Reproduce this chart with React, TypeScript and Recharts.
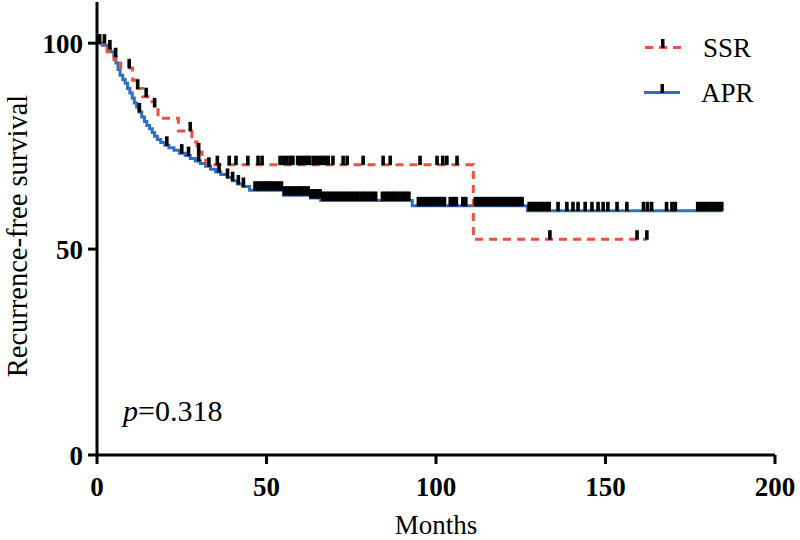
import React from "react";
import { ComposedChart, Line, Scatter, XAxis, YAxis } from "recharts";

// Kaplan-Meier step points (months, survival %)
const SSR_TIMES = [0, 3, 5, 7, 10.5, 12, 13.5, 15.5, 17, 18, 24, 28, 29.5, 31, 32.5, 111, 162.2];
const SSR_SURV = [100, 97.9, 96, 94, 91, 89, 87, 85.8, 84.5, 81.8, 78.7, 76, 73.6, 71.6, 70.5, 52.4, 52.4];

const APR_TIMES = [
  0, 1.5, 3, 4, 5, 5.6, 6.2, 6.8, 7.6, 8.3, 9, 9.7, 10.4, 11, 11.7, 12.4, 13.2, 14, 14.7, 15.5,
  16.3, 17, 17.8, 18.8, 20, 21.2, 22.7, 24.3, 26, 27.5, 29, 30.5, 32, 33.5, 35, 36.5, 38.5, 40,
  41.5, 43, 45, 55, 63, 66, 93, 127, 184.4,
];
const APR_SURV = [
  100, 99.5, 98.6, 97.9, 96.7, 95.2, 93.6, 92.2, 91.2, 90.3, 89, 87.9, 86.7, 85.5, 84.5, 83.3, 82.1,
  81, 80, 79.2, 78.3, 77.4, 76.6, 75.9, 75.2, 74.6, 74, 73.3, 72.7, 72, 71.4, 70.8, 70.1, 69.4, 68.7,
  68.1, 67.4, 66.6, 65.8, 65.2, 64.3, 63.1, 62.4, 61.8, 60.5, 59.3, 59.3,
];

// Censored observations (months)
const SSR_CENSOR = [
  0.6, 2.2, 9.5, 12, 14.5, 17, 27.5, 30, 35.5, 39, 41, 44.5, 47.5, 48.7, 54, 55, 56, 57, 57.8,
  59.2, 60.1, 61, 61.9, 62.7, 63.8, 64.7, 65.6, 66.4, 67.3, 68.2, 69.6, 72.6, 73.8, 78.5, 84.4,
  86.5, 95.3, 100.3, 102, 103.2, 106.2, 133.6, 159.3, 162.2,
];
const APR_CENSOR = [
  0.8, 3.8, 5.5, 12.5, 20.6, 25, 27, 30, 33, 36, 38.5, 40, 41.7, 43.2,
  46.6, 47.5, 48.4, 49.3, 50.1, 51, 51.8, 52.7, 53.6, 54.4, 55.3, 56.2, 57, 57.9, 58.8, 59.7,
  60.5, 61.4, 62.3, 63.1, 64, 64.9, 65.8, 66.6, 67.5, 68.4, 69.2, 70.1, 71, 71.8, 72.7, 73.6,
  74.4, 75.3, 76.2, 77, 77.9, 78.8, 79.6, 80.5, 81.4, 82.2,
  84.2, 85.1, 85.9, 86.8, 87.7, 88.5, 89.4, 90.3, 91.1, 92,
  94.8, 95.7, 96.5, 97.4, 98.3, 99.1, 100, 100.9, 101.7, 102.5,
  104.2, 105.1, 106, 107.9, 108.8,
  111.6, 112.5, 113.4, 114.2, 115.1, 116, 116.8, 117.7, 118.6, 119.4, 120.3, 121.2, 122, 122.9,
  123.8, 124.6, 125.4,
  127.5, 128.4, 129.2, 130.1, 131, 131.8, 132.7, 133.4,
  136, 138.6, 140.4, 141.9, 144, 146, 147.8, 149.3, 150.7, 153.4, 156.3, 161.2, 162.4, 163.6,
  168, 169.6, 170.6, 177.2, 178.1, 179, 179.9, 180.8, 181.7, 182.6, 183.5, 184.3,
];

const X_TICKS = [0, 50, 100, 150, 200];
const Y_TICKS = [0, 50, 100];

const RED = "#f0503f";
const BLUE = "#2f6fc2";
const FONT = "'Liberation Serif', 'Times New Roman', serif";

const survAt = (times: number[], surv: number[], t: number) => {
  let v = surv[0];
  for (let i = 0; i < times.length; i++) if (times[i] <= t) v = surv[i];
  return v;
};

const ssrLine = SSR_TIMES.map((m, i) => ({ m, v: SSR_SURV[i] }));
const aprLine = APR_TIMES.map((m, i) => ({ m, v: APR_SURV[i] }));
const ssrMarks = SSR_CENSOR.map((m) => ({ m, v: survAt(SSR_TIMES, SSR_SURV, m) }));
const aprMarks = APR_CENSOR.map((m) => ({ m, v: survAt(APR_TIMES, APR_SURV, m) }));

const CensorMark = (props: any) => {
  const { cx, cy } = props;
  if (cx == null || cy == null) return null;
  return <rect x={cx - 1.8} y={cy - 9} width={3.6} height={9.5} fill="#000" />;
};

export default function App() {
  return (
    <div style={{ position: "relative", width: 800, height: 540, background: "#fff" }}>
      <style>{`body{margin:0;background:#fff}`}</style>
      <ComposedChart width={800} height={540} margin={{ top: 2, right: 25, bottom: 0, left: 0 }}>
        <XAxis
          dataKey="m"
          type="number"
          domain={[0, 200]}
          ticks={X_TICKS}
          allowDataOverflow
          height={85}
          tickSize={9}
          tickMargin={13}
          axisLine={{ stroke: "#000", strokeWidth: 3 }}
          tickLine={{ stroke: "#000", strokeWidth: 3 }}
          tick={{ fill: "#000", fontSize: 27, fontWeight: "bold", fontFamily: FONT }}
          label={{
            content: () => (
              <text x={436} y={534} textAnchor="middle" fontSize={27} fontFamily={FONT} fill="#000">
                Months
              </text>
            ),
          }}
        />
        <YAxis
          dataKey="v"
          type="number"
          domain={[0, 110]}
          ticks={Y_TICKS}
          allowDataOverflow
          width={97}
          tickSize={9}
          tickMargin={5}
          axisLine={{ stroke: "#000", strokeWidth: 3 }}
          tickLine={{ stroke: "#000", strokeWidth: 3 }}
          tick={{ fill: "#000", fontSize: 27, fontWeight: "bold", fontFamily: FONT }}
          label={{
            content: () => (
              <text
                x={27}
                y={236}
                transform="rotate(-90 27 236)"
                textAnchor="middle"
                fontSize={28.5}
                fontFamily={FONT}
                fill="#000"
              >
                Recurrence-free survival
              </text>
            ),
          }}
        />
        <Line
          data={aprLine}
          dataKey="v"
          type="stepAfter"
          stroke={BLUE}
          strokeWidth={3}
          dot={false}
          activeDot={false}
          isAnimationActive={false}
        />
        <Line
          data={ssrLine}
          dataKey="v"
          type="stepAfter"
          stroke={RED}
          strokeWidth={3}
          strokeDasharray="8 6"
          dot={false}
          activeDot={false}
          isAnimationActive={false}
        />
        <Scatter data={aprMarks} dataKey="v" shape={CensorMark} isAnimationActive={false} />
        <Scatter data={ssrMarks} dataKey="v" shape={CensorMark} isAnimationActive={false} />
      </ComposedChart>
      <svg
        width={800}
        height={540}
        style={{ position: "absolute", left: 0, top: 0, pointerEvents: "none" }}
      >
        <text x={123} y={421} fontSize={30} fontFamily={FONT} fill="#000">
          <tspan fontStyle="italic">p</tspan>=0.318
        </text>
        {/* legend */}
        <line x1={645} y1={47.5} x2={683} y2={47.5} stroke={RED} strokeWidth={3} strokeDasharray="8 6" />
        <rect x={661} y={39} width={3.5} height={9} fill="#000" />
        <text x={703} y={57} fontSize={27} fontFamily={FONT} fill="#000">
          SSR
        </text>
        <line x1={644} y1={92.5} x2={680} y2={92.5} stroke={BLUE} strokeWidth={3} />
        <rect x={660.5} y={84} width={3.5} height={9} fill="#000" />
        <text x={701} y={101.5} fontSize={27} fontFamily={FONT} fill="#000">
          APR
        </text>
      </svg>
    </div>
  );
}
